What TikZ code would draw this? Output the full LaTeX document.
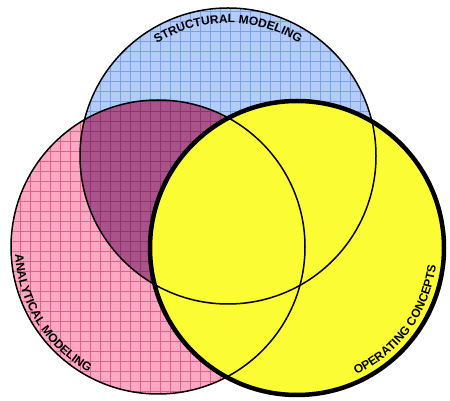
\documentclass[tikz,border=0pt]{standalone}
\usepackage{fontspec}
\setmainfont{Liberation Sans}
\usetikzlibrary{decorations.text,calc}
\definecolor{bluefill}{RGB}{180,204,250}
\definecolor{bluegrid}{RGB}{122,160,240}
\definecolor{pinkfill}{RGB}{255,168,195}
\definecolor{pinkgrid}{RGB}{238,92,140}
\definecolor{purplefill}{RGB}{170,82,138}
\definecolor{purplegrid}{RGB}{140,52,112}
\definecolor{yellowfill}{RGB}{252,252,52}
\tikzset{
  gridline/.style={line width=0.7pt},
  thinring/.style={draw=black, line width=1.5pt},
  thickring/.style={draw=black, line width=4.5pt},
  arclabel/.style={decorate, decoration={text along path, text align=center, text={|\bfseries\fontsize{12}{14}\selectfont|#1}}}
}
\begin{document}
\begin{tikzpicture}[x=1pt,y=1pt]
\useasboundingbox (0,0) rectangle (450,401);
\coordinate (B) at (228,245);
\coordinate (P) at (158,154);
\coordinate (Y) at (297,153);
% blue
\fill[bluefill] (B) circle (148);
\begin{scope}
  \clip (B) circle (148);
  \draw[bluegrid, gridline] (0,0) grid[step=10] (450,401);
\end{scope}
% pink
\fill[pinkfill] (P) circle (147);
\begin{scope}
  \clip (P) circle (147);
  \draw[pinkgrid, gridline] (0,0) grid[step=10] (450,401);
\end{scope}
% overlap
\begin{scope}
  \clip (P) circle (147);
  \fill[purplefill] (B) circle (148);
  \clip (B) circle (148);
  \draw[purplegrid, gridline] (0,0) grid[step=10] (450,401);
\end{scope}
% yellow
\fill[yellowfill] (Y) circle (147);
% outlines
\draw[thinring] (B) circle (148);
\draw[thinring] (P) circle (147);
\draw[thickring] (Y) circle (147);
% labels
\path[arclabel={STRUCTURAL MODELING}] ($(B)+(150:133)$) arc[start angle=150, end angle=30, radius=133];
\path[arclabel={ANALYTICAL MODELING}] ($(P)+(162:143)$) arc[start angle=162, end angle=262, radius=143];
\path[arclabel={OPERATING CONCEPTS}] ($(Y)+(-86:140)$) arc[start angle=-86, end angle=14, radius=140];
\end{tikzpicture}
\end{document}
